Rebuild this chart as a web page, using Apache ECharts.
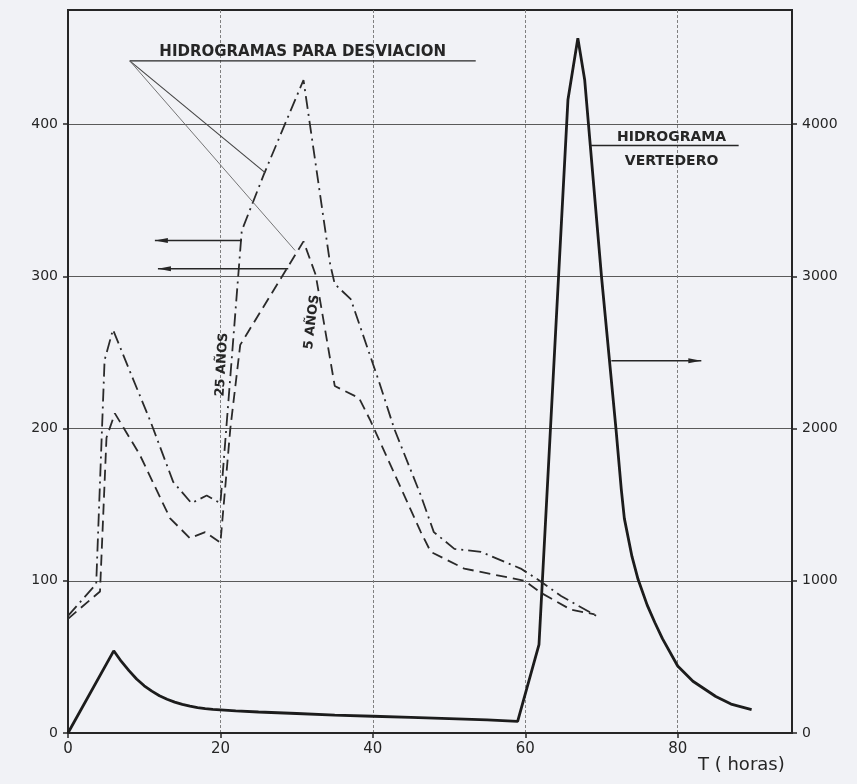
<!DOCTYPE html>
<html>
<head>
<meta charset="utf-8">
<script src="https://cdn.jsdelivr.net/npm/echarts@6/dist/echarts.min.js"></script>
<style>
html, body { margin: 0; background: #f1f2f6; }
#chart { width: 857px; height: 784px; }
</style>
</head>
<body>
<div id="chart"></div>
<script>
// hidrograma vertedero (right axis, m3/s)
const tVertedero = [0, 6, 7, 8, 9, 10, 11, 12, 13, 14, 15, 16, 17, 18, 19, 20, 22, 25, 30, 35, 40, 45, 50, 55, 59,
  61.8, 65.6, 66.9, 67.8, 70, 71.9, 72.6, 73, 74, 74.8, 76, 77, 78, 80, 82, 85, 87, 89.7];
const qVertedero = [0, 540, 470, 410, 355, 310, 275, 245, 222, 203, 188, 176, 167, 160, 155, 152, 146, 138, 128, 118, 110, 102, 94, 86, 77,
  580, 4160, 4565, 4290, 3000, 2000, 1600, 1410, 1160, 1010, 840, 726, 620, 440, 340, 240, 190, 154];

// hidrogramas para desviacion (left axis)
const t25 = [0, 3.7, 4.8, 5.9, 8.5, 10.8, 13.8, 16.2, 18.2, 20, 22.8, 25.7, 30.9, 34.4, 35, 37.1, 40.8, 42.8, 46.3, 48, 50.7, 54.2, 59.4, 61.6, 64.7, 69.3];
const q25 = [77, 98, 245, 265, 233, 205, 165, 151, 156, 151, 330, 367, 429, 308, 295, 285, 231, 200, 156, 132, 121, 119, 108, 101, 90, 77];
const t5 = [0, 4.2, 5.05, 6.15, 9.4, 13.4, 16, 18, 20, 21.3, 22.6, 30.9, 32.5, 35, 38.2, 39.7, 46.3, 47.6, 52, 59.9, 62.1, 66, 69.1];
const q5 = [75, 93, 194, 210, 183, 141, 128, 132, 125, 200, 255, 323, 301, 228, 220, 205, 132, 119, 108, 100, 92, 81, 78];

const xTicks = [0, 20, 40, 60, 80];
const leftTicks = [0, 100, 200, 300, 400];
const rightTicks = [0, 1000, 2000, 3000, 4000];

const zip = (a, b) => a.map((v, i) => [v, b[i]]);
const ink = '#262626';
const font = 'DejaVu Sans';

const chart = echarts.init(document.getElementById('chart'));
const option = {
  backgroundColor: '#f1f2f6',
  animation: false,
  grid: { left: 68, right: 65, top: 10, bottom: 51, show: true, borderColor: ink, borderWidth: 2 },
  xAxis: {
    type: 'value', min: 0, max: 95, interval: 20,
    axisLine: { lineStyle: { color: ink, width: 2 } },
    axisTick: { show: true, length: 5, customValues: xTicks, lineStyle: { color: ink, width: 1.5 } },
    axisLabel: {
      color: ink, fontFamily: font, fontSize: 15, margin: 9, customValues: xTicks,
      formatter: v => xTicks.includes(v) ? String(v) : ''
    },
    splitLine: { show: true, lineStyle: { color: '#808080', width: 1, type: [3, 2] } }
  },
  yAxis: [
    {
      type: 'value', min: 0, max: 475, interval: 100,
      axisLine: { show: true, lineStyle: { color: ink, width: 2 } },
      axisTick: { show: true, length: 5, customValues: leftTicks, lineStyle: { color: ink, width: 1.5 } },
      axisLabel: {
        color: ink, fontFamily: font, fontSize: 14, margin: 10, padding: [0, 0, 8, 0], customValues: leftTicks,
        formatter: v => leftTicks.includes(v) ? String(v) : ''
      },
      splitLine: { show: true, lineStyle: { color: '#5a5a5a', width: 1.2 } }
    },
    {
      type: 'value', min: 0, max: 4750, interval: 1000, position: 'right',
      axisLine: { show: true, lineStyle: { color: ink, width: 2 } },
      axisTick: { show: true, length: 5, customValues: rightTicks, lineStyle: { color: ink, width: 1.5 } },
      axisLabel: {
        color: ink, fontFamily: font, fontSize: 14, margin: 10, padding: [0, 0, 14, 0], customValues: rightTicks,
        formatter: v => rightTicks.includes(v) ? String(v) : ''
      },
      splitLine: { show: false }
    }
  ],
  series: [
    {
      name: 'Vertedero', type: 'line', yAxisIndex: 1, symbol: 'none',
      lineStyle: { color: '#1c1c1c', width: 2.8 },
      data: zip(tVertedero, qVertedero)
    },
    {
      name: '25 años', type: 'line', symbol: 'none',
      lineStyle: { color: '#2a2a2a', width: 1.8, type: [13, 5, 2, 5] },
      data: zip(t25, q25)
    },
    {
      name: '5 años', type: 'line', symbol: 'none',
      lineStyle: { color: '#2a2a2a', width: 1.8, type: [11, 6] },
      data: zip(t5, q5)
    }
  ]
};
chart.setOption(option);

// annotations, placed in data units (left axis)
const px = p => chart.convertToPixel({ gridIndex: 0 }, p);
const g = [];
function seg(a, b, w, c) {
  const p = px(a), q = px(b);
  g.push({ type: 'line', shape: { x1: p[0], y1: p[1], x2: q[0], y2: q[1] }, style: { stroke: c || ink, lineWidth: w || 1.2 }, z: 10 });
}
function arrow(a, b) {
  seg(a, b, 1.5);
  const p = px(a), q = px(b);
  const d = Math.sign(q[0] - p[0]);
  g.push({ type: 'polygon', shape: { points: [[q[0], q[1]], [q[0] - d * 13, q[1] - 2.5], [q[0] - d * 13, q[1] + 2.5]] }, style: { fill: ink }, z: 10 });
}
function text(p, s, opts) {
  const q = px(p);
  g.push(Object.assign({
    type: 'text', x: q[0], y: q[1], z: 11,
    style: Object.assign({ text: s, fill: ink, font: 'bold 14px "' + font + '"', align: 'center', verticalAlign: 'middle' }, opts.style || {})
  }, opts.el || {}));
}

// HIDROGRAMAS PARA DESVIACION
seg([8.1, 441.6], [53.5, 441.6], 1.4);
seg([8.1, 441.6], [25.9, 368], 1.1, '#444');
seg([8.1, 441.6], [29.8, 317], 0.9, '#666');
text([30.8, 447.5], 'HIDROGRAMAS PARA DESVIACION', { style: { font: 'bold 15px "' + font + '"' } });

// arrows to left axis
arrow([22.8, 323.5], [11.4, 323.5]);
arrow([28.9, 305], [11.8, 305]);

// rotated labels
text([20.2, 242], '25 AÑOS', { el: { rotation: Math.PI / 2 - 0.06 }, style: { font: 'bold 13px "' + font + '"' } });
text([32.0, 270], '5 AÑOS', { el: { rotation: Math.PI / 2 - 0.12 }, style: { font: 'bold 13px "' + font + '"' } });

// HIDROGRAMA VERTEDERO
seg([68.6, 386], [88, 386], 1.4);
text([79.2, 391], 'HIDROGRAMA', { style: { font: 'bold 14px "' + font + '"' } });
text([79.2, 375.5], 'VERTEDERO', { style: { font: 'bold 14px "' + font + '"' } });
arrow([71.3, 244.5], [83.1, 244.5]);

// axis name
g.push({ type: 'text', left: 698, top: 756, z: 11, style: { text: 'T ( horas)', fill: ink, font: '18px "' + font + '"' } });

chart.setOption({ graphic: g });
</script>
</body>
</html>
